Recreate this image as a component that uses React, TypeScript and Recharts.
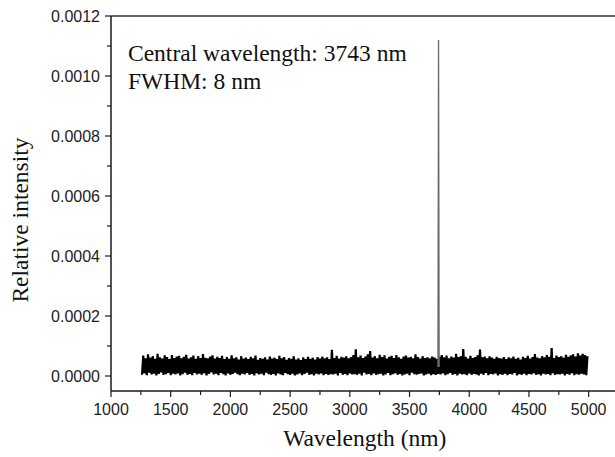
import React from 'react';
import { LineChart, Line, XAxis, YAxis, Customized } from 'recharts';

// spectrum sampling grid (nm)
const wavelengthStart = 1260;
const wavelengthStep = 10;

// noise floor, in units of 1e-5
const noiseE5 = [
  0.4, 6.8, 0.9, 5.9, 0.3, 7.2, 1.1, 6.1, 0.5, 6.6,
  0.8, 5.7, 0.2, 7.4, 0.7, 6.2, 1.2, 5.8, 0.4, 6.9,
  0.6, 6.3, 1.0, 5.6, 0.3, 7.0, 0.8, 6.0, 0.5, 6.5,
  0.9, 6.7, 0.2, 5.9, 0.6, 6.4, 1.1, 7.1, 0.4, 5.8,
  0.7, 6.2, 0.3, 6.8, 1.0, 5.7, 0.5, 6.6, 0.8, 6.0,
  0.4, 7.3, 0.9, 6.1, 0.2, 5.9, 0.7, 6.5, 1.2, 6.9,
  0.5, 5.8, 0.8, 6.4, 0.3, 6.0, 1.0, 6.7, 0.6, 5.6,
  0.2, 6.3, 0.9, 5.7, 0.4, 6.9, 0.7, 5.9, 1.1, 6.2,
  0.6, 5.5, 0.3, 6.6, 0.8, 5.8, 0.5, 6.1, 1.0, 5.6,
  0.4, 6.4, 0.7, 5.9, 0.2, 6.8, 0.9, 5.4, 0.5, 6.0,
  0.8, 5.7, 0.3, 6.2, 1.1, 5.5, 0.6, 6.5, 0.4, 5.8,
  0.7, 6.1, 0.2, 5.6, 0.9, 6.7, 0.5, 5.9, 0.3, 6.3,
  1.0, 5.4, 0.6, 6.0, 0.4, 5.7, 0.8, 6.6, 0.2, 5.5,
  0.5, 5.9, 0.9, 5.3, 0.3, 6.2, 0.7, 5.6, 1.1, 6.4,
  0.4, 5.7, 0.6, 6.1, 0.2, 5.5, 0.8, 6.3, 0.5, 5.8,
  0.9, 6.5, 0.3, 5.9, 0.7, 6.2, 0.4, 5.6, 0.6, 8.7,
  0.5, 6.0, 0.8, 6.7, 0.2, 5.8, 1.0, 6.4, 0.4, 6.1,
  0.7, 6.6, 0.3, 5.9, 0.9, 6.3, 0.5, 7.0, 0.6, 8.9,
  0.4, 6.2, 0.8, 6.8, 0.2, 6.0, 1.1, 6.5, 0.5, 7.2,
  0.7, 8.3, 0.3, 6.1, 0.9, 6.6, 0.4, 5.9, 0.6, 7.1,
  0.8, 6.3, 0.2, 6.9, 0.5, 5.8, 1.0, 6.4, 0.3, 6.7,
  0.6, 6.0, 0.9, 7.0, 0.4, 6.2, 0.7, 5.7, 0.2, 6.5,
  0.5, 6.8, 0.8, 6.1, 0.3, 6.4, 1.1, 5.9, 0.6, 7.2,
  0.4, 6.3, 0.7, 5.8, 0.9, 6.6, 0.2, 6.0, 0.5, 6.2,
  0.8, 5.9, 0.3, 6.5, 0.6, 6.1, 0.4, 5.7, 0.7, 6.4,
  0.5, 7.0, 0.9, 6.2, 0.3, 6.8, 0.6, 5.9, 1.0, 6.5,
  0.4, 6.1, 0.7, 7.4, 0.2, 6.3, 0.8, 6.6, 0.5, 9.0,
  0.6, 6.4, 0.3, 5.8, 0.9, 6.7, 0.4, 6.0, 0.7, 6.3,
  0.5, 6.9, 0.2, 8.8, 0.8, 6.2, 0.4, 6.5, 1.0, 5.9,
  0.3, 6.6, 0.7, 6.1, 0.5, 5.7, 0.9, 6.4, 0.2, 6.0,
  0.6, 5.8, 0.4, 6.3, 0.8, 5.6, 0.3, 6.2, 0.7, 5.9,
  0.5, 6.5, 1.0, 5.7, 0.2, 6.1, 0.6, 5.5, 0.4, 6.4,
  0.8, 6.0, 0.3, 6.7, 0.7, 5.8, 0.5, 6.3, 0.9, 7.3,
  0.4, 6.1, 0.6, 5.9, 0.2, 6.6, 0.8, 6.2, 0.5, 7.0,
  0.7, 6.4, 0.3, 9.3, 0.9, 6.0, 0.4, 6.8, 0.6, 6.3,
  0.5, 6.6, 0.8, 6.1, 0.2, 7.1, 0.7, 6.4, 0.4, 6.9,
  0.9, 7.2, 0.3, 6.5, 0.6, 7.6, 0.4, 6.8, 0.8, 7.4,
  0.5, 7.0, 0.3, 6.6,
];

// emission line at 3743 nm (narrow, about 1 px wide on this scale)
const peakWavelength = [3738, 3743, 3748];
const peakIntensity = [0.00003, 0.00112, 0.00003];

const xTicks = [1000, 1250, 1500, 1750, 2000, 2250, 2500, 2750, 3000, 3250, 3500, 3750, 4000, 4250, 4500, 4750, 5000];
const yTicks = [0, 0.0001, 0.0002, 0.0003, 0.0004, 0.0005, 0.0006, 0.0007, 0.0008, 0.0009, 0.001, 0.0011, 0.0012];

const noiseData = noiseE5.map((v, i) => ({ wl: wavelengthStart + i * wavelengthStep, v: v * 1e-5 }));
const peakData = peakWavelength.map((wl, i) => ({ wl, v: peakIntensity[i] }));

const sans = '"Liberation Sans", Arial, sans-serif';
const serif = '"Liberation Serif", "Times New Roman", serif';
const axisColor = '#1a1a1a';

const XTick = ({ x, y, payload }: any) => {
  const major = payload.value % 500 === 0;
  return (
    <g>
      <line x1={x} y1={y} x2={x} y2={y + (major ? 6 : 4)} stroke={axisColor} strokeWidth={1.2} />
      {major && (
        <text x={x} y={y + 24} textAnchor="middle" fontSize={16} fontFamily={sans} fill="#222">
          {payload.value}
        </text>
      )}
    </g>
  );
};

const YTick = ({ x, y, payload }: any) => {
  const major = Math.round(payload.value * 10000) % 2 === 0;
  return (
    <g>
      <line x1={x} y1={y} x2={x - (major ? 6 : 4)} y2={y} stroke={axisColor} strokeWidth={1.2} />
      {major && (
        <text x={x - 11} y={y + 5.5} textAnchor="end" fontSize={16} fontFamily={sans} fill="#222">
          {payload.value.toFixed(4)}
        </text>
      )}
    </g>
  );
};

const Notes = () => (
  <g fontFamily={serif} fontSize={23.5} fill="#111">
    <text x={128} y={61}>Central wavelength: 3743 nm</text>
    <text x={128} y={89}>FWHM: 8 nm</text>
  </g>
);

export default function App() {
  return (
    <div style={{ position: 'absolute', left: 0, top: 0, width: 615, height: 457, overflow: 'hidden', background: '#fff' }}>
      <LineChart width={640} height={457} data={noiseData} margin={{ top: 6, right: 11.5, bottom: 0, left: 0 }}>
        <XAxis
          dataKey="wl"
          type="number"
          domain={[1000, 5250]}
          ticks={xTicks}
          interval={0}
          height={66}
          tickSize={0}
          tickMargin={0}
          tickLine={false}
          tick={<XTick />}
          axisLine={{ stroke: axisColor, strokeWidth: 1.5 }}
          label={{ value: 'Wavelength (nm)', position: 'insideBottom', offset: 11, fontSize: 23.5, fontFamily: serif, fill: '#111' }}
        />
        <XAxis
          xAxisId="top"
          orientation="top"
          type="number"
          domain={[1000, 5250]}
          height={10}
          tick={false}
          tickLine={false}
          axisLine={{ stroke: '#333', strokeWidth: 1.5 }}
        />
        <YAxis
          type="number"
          domain={[-0.00005, 0.0012]}
          ticks={yTicks}
          interval={0}
          width={111}
          tickSize={0}
          tickMargin={0}
          tickLine={false}
          tick={<YTick />}
          axisLine={{ stroke: axisColor, strokeWidth: 1.5 }}
          label={{
            content: () => (
              <text x={28} y={220} transform="rotate(-90, 28, 220)" textAnchor="middle" fontSize={23.5} fontFamily={serif} fill="#111">
                Relative intensity
              </text>
            ),
          }}
        />
        <YAxis
          yAxisId="right"
          orientation="right"
          type="number"
          domain={[-0.00005, 0.0012]}
          width={10}
          tick={false}
          tickLine={false}
          axisLine={{ stroke: '#333', strokeWidth: 1.5 }}
        />
        <Line dataKey="v" stroke="#000" strokeWidth={2.2} strokeLinejoin="bevel" dot={false} isAnimationActive={false} />
        <Line data={peakData} dataKey="v" stroke="#6a6a6a" strokeWidth={1.3} dot={false} isAnimationActive={false} />
        <Customized component={Notes} />
      </LineChart>
    </div>
  );
}
